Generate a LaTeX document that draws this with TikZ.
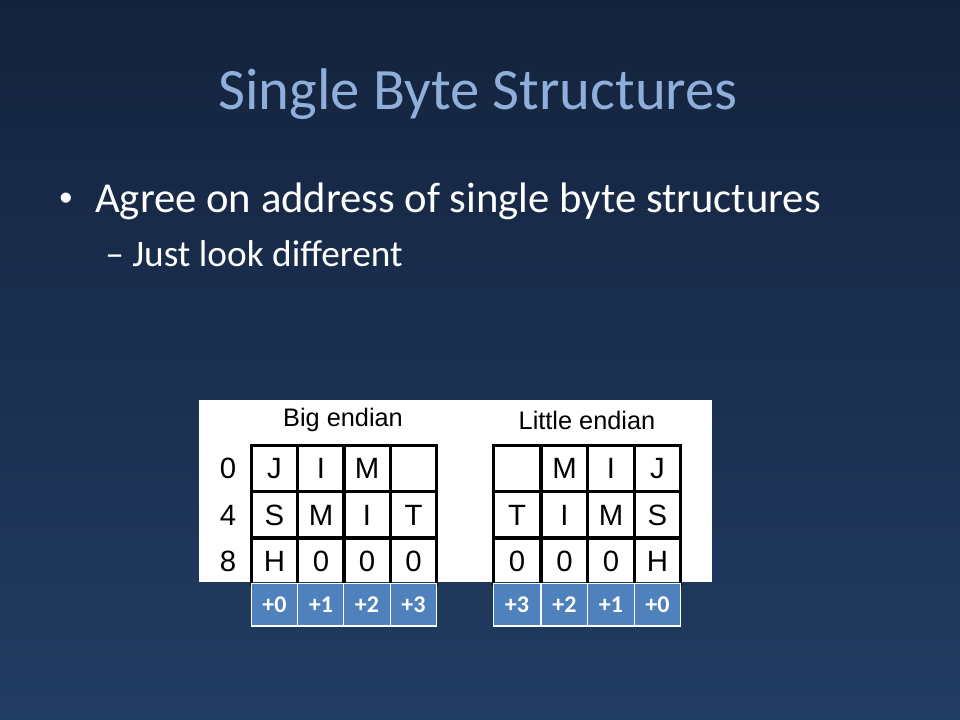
\documentclass[tikz,border=0pt]{standalone}
\usepackage{fontspec}
\setmainfont{Carlito}
\newfontfamily\arialf{Liberation Sans}
\definecolor{bgtop}{RGB}{20,35,61}
\definecolor{bgbot}{RGB}{33,60,98}
\definecolor{titleblue}{RGB}{143,174,218}
\definecolor{accent}{RGB}{79,129,189}
\tikzset{
  cellbox/.style={draw=black, line width=2.3pt, minimum width=35pt, minimum height=35pt, inner sep=0pt, font=\arialf\fontsize{22}{24}\selectfont, text=black},
  offbox/.style={draw=white, line width=0.6pt, fill=accent, minimum width=35pt, minimum height=32pt, inner sep=0pt, font=\bfseries\fontsize{18}{20}\selectfont, text=white},
  rowlab/.style={font=\arialf\fontsize{22}{24}\selectfont, text=black},
  headlab/.style={font=\arialf\fontsize{19}{21}\selectfont, text=black}
}
\begin{document}
\begin{tikzpicture}[x=0.75pt,y=-0.75pt]
\useasboundingbox (0,0) rectangle (960,720);
\shade[top color=bgtop, bottom color=bgbot] (0,0) rectangle (960,720);
% title and bullets
\node[anchor=base, text=titleblue, font=\fontsize{44}{50}\selectfont, inner sep=0pt] (title) at (478,110) {Single Byte Structures};
\node[anchor=base, text=white, font=\arialf\fontsize{28}{30}\selectfont, inner sep=0pt] (dot) at (66,211) {•};
\node[anchor=base west, text=white, font=\fontsize{32}{36}\selectfont, inner sep=0pt] (b1) at (95,213) {Agree on address of single byte structures};
\node[anchor=base west, text=white, font=\fontsize{28}{32}\selectfont, inner sep=0pt] (b2) at (105,267) {– Just look different};
% white panel
\fill[white] (199,400) rectangle (712,582);
\node[headlab] (bigh) at (343,420) {Big endian};
\node[headlab] (lith) at (587,420) {Little endian};
\node[rowlab] (r0) at (228,468) {0};
\node[rowlab] (r4) at (228,515) {4};
\node[rowlab] (r8) at (228,561) {8};
% big endian grid
\node[cellbox] (bA1) at (274.5,468.5) {J};
\node[cellbox] (bA2) at (321,468.5) {I};
\node[cellbox] (bA3) at (367,468.5) {M};
\node[cellbox] (bA4) at (413.5,468.5) {};
\node[cellbox] (bB1) at (274.5,515) {S};
\node[cellbox] (bB2) at (321,515) {M};
\node[cellbox] (bB3) at (367,515) {I};
\node[cellbox] (bB4) at (413.5,515) {T};
\node[cellbox] (bC1) at (274.5,561) {H};
\node[cellbox] (bC2) at (321,561) {0};
\node[cellbox] (bC3) at (367,561) {0};
\node[cellbox] (bC4) at (413.5,561) {0};
% little endian grid
\node[cellbox] (lA1) at (517,468.5) {};
\node[cellbox] (lA2) at (564.5,468.5) {M};
\node[cellbox] (lA3) at (611,468.5) {I};
\node[cellbox] (lA4) at (657.5,468.5) {J};
\node[cellbox] (lB1) at (517,515) {T};
\node[cellbox] (lB2) at (564.5,515) {I};
\node[cellbox] (lB3) at (611,515) {M};
\node[cellbox] (lB4) at (657.5,515) {S};
\node[cellbox] (lC1) at (517,561) {0};
\node[cellbox] (lC2) at (564.5,561) {0};
\node[cellbox] (lC3) at (611,561) {0};
\node[cellbox] (lC4) at (657.5,561) {H};
% offset rows
\node[offbox] (bo0) at (274.5,604.5) {+0};
\node[offbox] (bo1) at (321,604.5) {+1};
\node[offbox] (bo2) at (367,604.5) {+2};
\node[offbox] (bo3) at (413.5,604.5) {+3};
\node[offbox] (lo3) at (517,604.5) {+3};
\node[offbox] (lo2) at (564.5,604.5) {+2};
\node[offbox] (lo1) at (611,604.5) {+1};
\node[offbox] (lo0) at (657.5,604.5) {+0};
\draw[white, line width=1.5pt] (bo0.south west) -- (bo3.south east);
\draw[white, line width=1.5pt] (lo3.south west) -- (lo0.south east);
\end{tikzpicture}
\end{document}
